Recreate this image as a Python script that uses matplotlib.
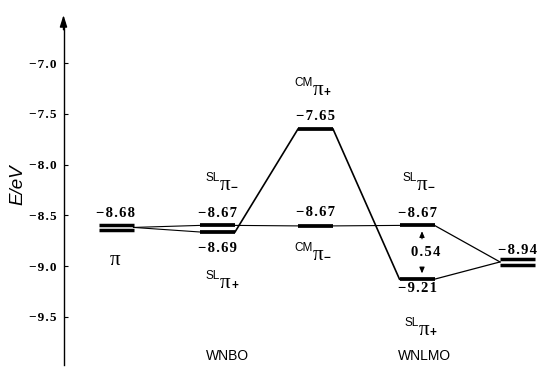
import matplotlib
matplotlib.use('Agg')
import matplotlib.pyplot as plt

# columns of the diagram (x in pixel-like units, energies in eV)
col_x = [116, 217.5, 315.5, 417, 517.5]
col_names = ['', 'WNBO', '', 'WNLMO', '']

# orbital levels: column, drawn energy, printed value, degenerate (double bar)
level_col = [0, 1, 1, 2, 2, 3, 3, 4]
level_E = [-8.62, -8.60, -8.665, -7.65, -8.605, -8.60, -9.13, -8.96]
level_text = ['−8.68', '−8.67', '−8.69', '−7.65', '−8.67', '−8.67', '−9.21', '−8.94']
level_double = [True, False, False, False, False, False, False, True]
# vertical offset of the value label (pixels, + is up)
text_dy = [10, 8, -20, 9, 9.5, 8.5, -12.5, 7.5]

# orbital symbols: level index, superscript, sign, offset (px)
sym_level = [0, 1, 2, 3, 4, 5, 6]
sym_sup = ['', 'SL', 'SL', 'CM', 'CM', 'SL', 'SL']
sym_sign = ['', '−', '+', '+', '−', '−', '+']
sym_dx = [-1, 7.5, 7.5, 2.5, 2.5, 5, 7]
sym_dy = [-38, 35, -56, 34, -34, 35, -56]

yticks = [-7.0, -7.5, -8.0, -8.5, -9.0, -9.5]
gap_text = '0.54'

half_w = 17.5
sp = '\u200a'
serif = ['Liberation Serif', 'DejaVu Serif']
sans = ['Liberation Sans', 'DejaVu Sans']

fig = plt.figure(figsize=(5.43, 3.83), dpi=100)
ax = fig.add_axes([0, 0, 1, 1])
ax.set_xlim(0, 543)
ax.set_ylim(-10.1527, -6.3793)

# energy axis
for s in ['top', 'right', 'bottom']:
    ax.spines[s].set_visible(False)
ax.spines['left'].set_position(('data', 63.5))
ax.spines['left'].set_bounds(-9.975, -6.6)
ax.spines['left'].set_linewidth(1.0)
ax.set_xticks([])
ax.set_yticks(yticks)
ax.set_yticklabels([sp.join(('%.1f' % t).replace('-', '−')) for t in yticks],
                   family=serif, fontweight='bold', fontsize=9.5)
ax.tick_params(axis='y', direction='in', length=3, width=0.8, pad=5)
ax.annotate('', xy=(63.5, -6.5), xytext=(63.5, -6.7),
            arrowprops=dict(arrowstyle='-|>,head_length=0.7,head_width=0.22',
                            lw=1.0, color='black'))
fig.text(18 / 543, 1 - 185 / 383, 'E/eV', rotation=90, ha='center', va='center',
         family=sans, style='italic', fontsize=13.5)

# levels
lx = [col_x[c] for c in level_col]
for x, E, dbl in zip(lx, level_E, level_double):
    if dbl:
        ax.hlines([E + 0.027, E - 0.027], x - half_w, x + half_w, lw=2.5, color='black')
    else:
        ax.hlines(E, x - half_w, x + half_w, lw=2.7, color='black')

def left(i):
    return lx[i] - half_w, level_E[i]

def right(i):
    return lx[i] + half_w, level_E[i]

# correlation lines
thin = [right(0), left(1), right(1), left(4), right(4), left(5)]
ax.plot([p[0] for p in thin], [p[1] for p in thin], color='black', lw=0.8)
for a, b, w in [(right(0), left(2), 0.8), (right(2), left(3), 1.2),
                (right(3), left(6), 1.2), (right(5), left(7), 0.9),
                (right(6), left(7), 0.9)]:
    ax.plot([a[0], b[0]], [a[1], b[1]], color='black', lw=w)

# value labels
for x, E, t, dy in zip(lx, level_E, level_text, text_dy):
    ax.annotate(sp.join(t), (x, E), xytext=(0, dy), textcoords='offset pixels',
                ha='center', va='baseline', family=serif, fontweight='bold',
                fontsize=10.5)

# orbital symbols
for i, sup, sign, dx, dy in zip(sym_level, sym_sup, sym_sign, sym_dx, sym_dy):
    p = (lx[i], level_E[i])
    ax.annotate('π', p, xytext=(dx, dy), textcoords='offset pixels',
                ha='center', va='baseline', family=serif, fontsize=15)
    if sup:
        ax.annotate(sup, p, xytext=(dx - 5, dy + 9), textcoords='offset pixels',
                    ha='right', va='baseline', family=sans, fontsize=8.5)
        ax.annotate(sign, p, xytext=(dx + 6, dy + 2), textcoords='offset pixels',
                    ha='left', va='center', family=sans, fontsize=8.5,
                    fontweight='bold')

# splitting of the WNLMO pair
xa = lx[5] + 5
mid = (level_E[5] + level_E[6]) / 2
ax.annotate(sp.join(gap_text), (xa + 4, mid), xytext=(0, -4), textcoords='offset pixels',
            ha='center', va='baseline', family=serif, fontweight='bold', fontsize=10.5)
ax.annotate('', xy=(xa, level_E[5] - 0.03), xytext=(xa, level_E[5] - 0.16),
            arrowprops=dict(arrowstyle='-|>,head_length=0.35,head_width=0.15',
                            lw=0.8, color='black'))
ax.annotate('', xy=(xa, level_E[6] + 0.03), xytext=(xa, level_E[6] + 0.14),
            arrowprops=dict(arrowstyle='-|>,head_length=0.35,head_width=0.15',
                            lw=0.8, color='black'))

# method names
for x, name in zip(col_x, col_names):
    if name:
        ax.annotate(name, (x + 10 if name == 'WNBO' else x + 8, 0), xycoords=('data', 'figure pixels'),
                    xytext=(0, 27), textcoords='offset pixels',
                    ha='center', va='center', family=sans, fontsize=10)

fig.savefig('out.png', dpi=100)
